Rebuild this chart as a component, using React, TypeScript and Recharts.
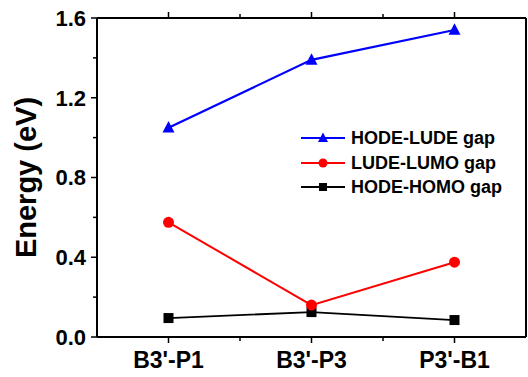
import React from "react";
import { LineChart, Line, XAxis, YAxis, Legend } from "recharts";

// category labels along the x axis
const categories = ["B3'-P1", "B3'-P3", "P3'-B1"];
// energy gaps in eV
const hodeLude = [1.05, 1.39, 1.54];
const ludeLumo = [0.575, 0.16, 0.375];
const hodeHomo = [0.095, 0.125, 0.085];
// y ticks (every 0.2, labels on every 0.4)
const yTicks = [0, 0.2, 0.4, 0.6, 0.8, 1.0, 1.2, 1.4, 1.6];
// x ticks: category centres plus band boundaries
const xTicks = [0.5, 1, 1.5, 2, 2.5];

const FONT = "'Liberation Sans', Arial, Helvetica, sans-serif";

const data = categories.map((name, i) => ({
  pos: i + 0.5,
  name,
  hodeLude: hodeLude[i],
  ludeLumo: ludeLumo[i],
  hodeHomo: hodeHomo[i],
}));

const isMajorX = (v: number) => Math.abs(v - Math.floor(v) - 0.5) < 1e-6;
const isMajorY = (v: number) => Math.abs(v / 0.4 - Math.round(v / 0.4)) < 1e-6;

const BottomTick = (props: any) => {
  const { x, y, payload } = props;
  const major = isMajorX(payload.value);
  return (
    <g>
      <line x1={x} x2={x} y1={y} y2={y + (major ? 6 : 4)} stroke="#000" strokeWidth={1.5} />
      {major && (
        <text
          x={x}
          y={y + 15}
          dy="0.71em"
          textAnchor="middle"
          fontFamily={FONT}
          fontWeight="bold"
          fontSize={23}
          fill="#000"
        >
          {categories[Math.floor(payload.value)]}
        </text>
      )}
    </g>
  );
};

const TopTick = (props: any) => {
  const { x, y, payload } = props;
  const major = isMajorX(payload.value);
  return <line x1={x} x2={x} y1={y} y2={y - (major ? 6 : 4)} stroke="#000" strokeWidth={1.5} />;
};

const LeftTick = (props: any) => {
  const { x, y, payload } = props;
  const major = isMajorY(payload.value);
  return (
    <g>
      <line x1={x} x2={x - (major ? 6 : 4)} y1={y} y2={y} stroke="#000" strokeWidth={1.5} />
      {major && (
        <text
          x={x - 11}
          y={y}
          dy="0.36em"
          textAnchor="end"
          fontFamily={FONT}
          fontWeight="bold"
          fontSize={22}
          fill="#000"
        >
          {payload.value.toFixed(1)}
        </text>
      )}
    </g>
  );
};

const RightTick = (props: any) => {
  const { x, y, payload } = props;
  const major = isMajorY(payload.value);
  return <line x1={x} x2={x + (major ? 6 : 4)} y1={y} y2={y} stroke="#000" strokeWidth={1.5} />;
};

const Triangle = ({ cx, cy, s, color }: any) => (
  <polygon
    points={`${cx},${cy - s * 0.55} ${cx - s / 2},${cy + s * 0.4} ${cx + s / 2},${cy + s * 0.4}`}
    fill={color}
  />
);

const Square = ({ cx, cy, s, color }: any) => (
  <rect x={cx - s / 2} y={cy - s / 2} width={s} height={s} fill={color} />
);

const Circle = ({ cx, cy, r, color }: any) => <circle cx={cx} cy={cy} r={r} fill={color} />;

const legendItems = [
  { label: "HODE-LUDE gap", color: "#0000ff", shape: "triangle" },
  { label: "LUDE-LUMO gap", color: "#ff0000", shape: "circle" },
  { label: "HODE-HOMO gap", color: "#000000", shape: "square" },
];

const LegendContent = () => (
  <div style={{ fontFamily: FONT, fontWeight: "bold", fontSize: 18 }}>
    {legendItems.map((item) => (
      <div
        key={item.label}
        style={{ display: "flex", alignItems: "center", height: 24.5, lineHeight: "24.5px" }}
      >
        <svg width={50} height={24} style={{ display: "block" }}>
          <line x1={0} x2={44} y1={12} y2={12} stroke={item.color} strokeWidth={2} />
          {item.shape === "triangle" && <Triangle cx={22} cy={12} s={10} color={item.color} />}
          {item.shape === "circle" && <Circle cx={22} cy={12} r={4.5} color={item.color} />}
          {item.shape === "square" && <Square cx={22} cy={12} s={8} color={item.color} />}
        </svg>
        <span style={{ color: "#000", whiteSpace: "nowrap" }}>{item.label}</span>
      </div>
    ))}
  </div>
);

const YLabel = (props: any) => {
  const { viewBox } = props;
  const cx = viewBox.x + 36;
  const cy = viewBox.y + viewBox.height / 2;
  return (
    <text
      x={cx}
      y={cy}
      transform={`rotate(-90 ${cx} ${cy})`}
      textAnchor="middle"
      fontFamily={FONT}
      fontWeight="bold"
      fontSize={29}
      fill="#000"
    >
      Energy (eV)
    </text>
  );
};

export default function App() {
  return (
    <div style={{ position: "absolute", left: 0, top: 0, width: 528, height: 377, background: "#fff" }}>
      <LineChart width={528} height={377} data={data} margin={{ top: 0, right: 0, bottom: 0, left: 0 }}>
        <XAxis
          dataKey="pos"
          type="number"
          domain={[0, 3]}
          ticks={xTicks}
          height={40}
          tickSize={0}
          tickMargin={0}
          tickLine={false}
          tick={<BottomTick />}
          axisLine={{ stroke: "#000", strokeWidth: 2 }}
          interval={0}
        />
        <XAxis
          xAxisId="top"
          orientation="top"
          dataKey="pos"
          type="number"
          domain={[0, 3]}
          ticks={xTicks}
          height={18}
          tickSize={0}
          tickMargin={0}
          tickLine={false}
          tick={<TopTick />}
          axisLine={{ stroke: "#000", strokeWidth: 2 }}
          interval={0}
        />
        <YAxis
          type="number"
          domain={[0, 1.6]}
          ticks={yTicks}
          width={97}
          tickSize={0}
          tickMargin={0}
          tickLine={false}
          tick={<LeftTick />}
          axisLine={{ stroke: "#000", strokeWidth: 2 }}
          interval={0}
          label={<YLabel />}
        />
        <YAxis
          yAxisId="right"
          orientation="right"
          type="number"
          domain={[0, 1.6]}
          ticks={yTicks}
          width={2}
          tickSize={0}
          tickMargin={0}
          tickLine={false}
          tick={<RightTick />}
          axisLine={{ stroke: "#000", strokeWidth: 2 }}
          interval={0}
        />
        <Legend
          layout="horizontal"
          verticalAlign="middle"
          align="center"
          content={<LegendContent />}
          wrapperStyle={{ left: 301, top: 126, width: "auto" }}
        />
        <Line
          dataKey="hodeHomo"
          stroke="#000000"
          strokeWidth={1.8}
          isAnimationActive={false}
          dot={(p: any) => <Square key={`sq-${p.index}`} cx={p.cx} cy={p.cy} s={10} color="#000000" />}
          activeDot={false}
        />
        <Line
          dataKey="ludeLumo"
          stroke="#ff0000"
          strokeWidth={2}
          isAnimationActive={false}
          dot={(p: any) => <Circle key={`ci-${p.index}`} cx={p.cx} cy={p.cy} r={5.5} color="#ff0000" />}
          activeDot={false}
        />
        <Line
          dataKey="hodeLude"
          stroke="#0000ff"
          strokeWidth={2.2}
          isAnimationActive={false}
          dot={(p: any) => <Triangle key={`tr-${p.index}`} cx={p.cx} cy={p.cy} s={12} color="#0000ff" />}
          activeDot={false}
        />
      </LineChart>
    </div>
  );
}
